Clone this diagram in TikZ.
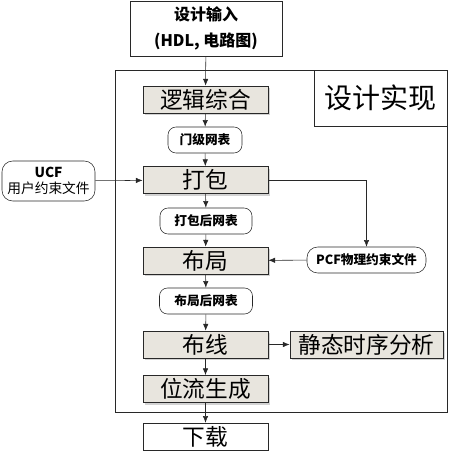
\documentclass[tikz,border=0pt]{standalone}
\usepackage{fontspec}
\newfontfamily\cjk{Noto Sans CJK SC}
\usetikzlibrary{arrows.meta, shadows}
\definecolor{stepgray}{RGB}{232,229,222}
\definecolor{linegray}{RGB}{40,40,40}

\tikzset{
  stage/.style={draw=linegray, semithick, fill=stepgray, minimum width=125*0.75pt,
    minimum height=27*0.75pt, inner sep=0pt, font=\cjk\fontsize{17}{17}\selectfont,
    drop shadow={shadow xshift=1.5pt, shadow yshift=-1.5pt, opacity=0.35}},
  netlist/.style={draw=linegray, rounded corners=6pt, fill=white, minimum height=26*0.75pt,
    inner sep=0pt, font=\cjk\bfseries\fontsize{9.5}{10}\selectfont},
  plain/.style={draw=linegray, fill=white, inner sep=0pt},
  flow/.style={-{Latex[length=5pt,width=4pt]}, linegray}
}

\begin{document}
\begin{tikzpicture}[x=0.75pt, y=-0.75pt]
  \useasboundingbox (0,0) rectangle (452,454);
  % frame of the implementation part
  \draw[linegray] (115,70) rectangle (447,412);
  \node[plain, minimum width=133*0.75pt, minimum height=56*0.75pt,
    font=\cjk\fontsize{21}{21}\selectfont] (impl) at (380.5,98) {设计实现};
  % input and output
  \node[plain, minimum width=152*0.75pt, minimum height=55*0.75pt, align=center,
    font=\cjk\bfseries\fontsize{12}{19}\selectfont] (input) at (206,28.5) {设计输入\\(HDL, 电路图)};
  \node[plain, minimum width=125*0.75pt, minimum height=27*0.75pt,
    font=\cjk\fontsize{17}{17}\selectfont] (dl) at (205.5,436.5) {下载};
  % stages
  \node[stage] (syn) at (205.5,99.5) {逻辑综合};
  \node[netlist, minimum width=74*0.75pt] (gnet) at (205,140) {门级网表};
  \node[stage] (pack) at (205.5,180) {打包};
  \node[netlist, minimum width=92*0.75pt] (pnet) at (206,221) {打包后网表};
  \node[stage] (place) at (205.5,260.5) {布局};
  \node[netlist, minimum width=93*0.75pt] (lnet) at (206,301) {布局后网表};
  \node[stage] (route) at (205.5,344.5) {布线};
  \node[stage, minimum width=153*0.75pt] (sta) at (366.5,344.5) {静态时序分析};
  \node[stage] (bit) at (205.5,389) {位流生成};
  % constraint files
  \node[netlist, minimum width=93*0.75pt, minimum height=40*0.75pt, align=center,
    rounded corners=8pt, font=\cjk\fontsize{10.3}{12.5}\selectfont] (ucf) at (48.5,181)
    {\bfseries UCF\\用户约束文件};
  \node[netlist, minimum width=119*0.75pt, rounded corners=8pt] (pcf) at (366.5,260) {PCF物理约束文件};
  % connectors
  \draw[flow] (input) -- (syn);
  \draw[flow] (syn) -- (gnet);
  \draw[flow] (gnet) -- (pack);
  \draw[flow] (pack) -- (pnet);
  \draw[flow] (pnet) -- (place);
  \draw[flow] (place) -- (lnet);
  \draw[flow] (lnet) -- (route);
  \draw[flow] (route) -- (bit);
  \draw[flow] (bit) -- (dl);
  \draw[flow] (route) -- (sta);
  \draw[flow] (ucf) -- (pack);
  \draw[flow] (pack.east) -| (pcf.north);
  \draw[flow] (pcf) -- (place);
\end{tikzpicture}
\end{document}
